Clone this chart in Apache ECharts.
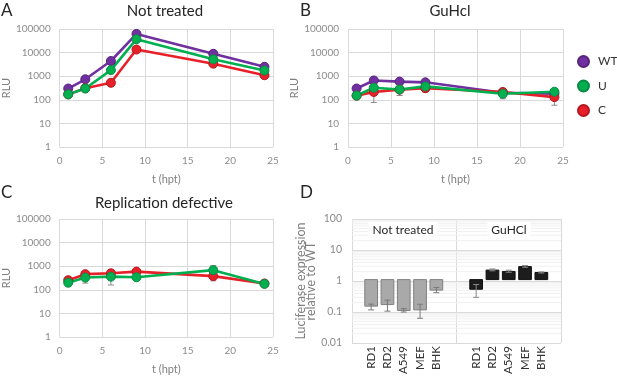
<!DOCTYPE html>
<html><head><meta charset="utf-8">
<script src="https://cdn.jsdelivr.net/npm/echarts@6/dist/echarts.min.js"></script>
<style>html,body{margin:0;padding:0;background:#fff}#c{width:617px;height:377px}</style>
</head><body><div id="c"></div>
<script>
// ---- data ----
const T = [1, 3, 6, 9, 18, 24];
const seriesNames = ['WT', 'U', 'C'];
const A_WT = [300, 740, 4400, 62000, 8900, 2500];
const A_U = [170, 300, 1800, 37000, 5200, 1740];
const A_C = [170, 310, 525, 13500, 3400, 1100];
const B_WT = [300, 660, 590, 550, 200, 180];
const B_U = [152, 325, 275, 370, 180, 220];
const B_C = [150, 215, 270, 310, 215, 130];
const B_errLow = [110, 77, 152, 213, 110, 59];
const B_errHigh = [330, 800, 700, 640, 260, 300];
const C_U = [200, 330, 360, 340, 680, 178];
const C_C = [255, 460, 500, 590, 380, 185];
const C_errLow = [150, 192, 160, 310, 240, 140];
const C_errHigh = [300, 520, 650, 640, 1050, 260];
const cells = ['RD1', 'RD2', 'A549', 'MEF', 'BHK'];
const D_nt = [0.133, 0.15, 0.096, 0.1, 0.45];
const D_ntLow = [0.1, 0.091, 0.085, 0.053, 0.37];
const D_ntHigh = [0.155, 0.21, 0.11, 0.154, 0.55];
const D_gu = [0.48, 2.06, 1.86, 2.69, 1.72];
const D_guLow = [0.26, 1.95, 1.75, 2.55, 1.65];
const D_guHigh = [0.69, 2.25, 2.05, 2.9, 1.8];
const D_minor = [0.02,0.03,0.04,0.05,0.06,0.07,0.08,0.09,0.2,0.3,0.4,0.5,0.6,0.7,0.8,0.9,2,3,4,5,6,7,8,9,20,30,40,50,60,70,80,90];

// ---- styling ----
const FONT = 'Lato, "Open Sans", sans-serif';
const COL = {WT: '#7030A0', U: '#00B050', C: '#E8202A'};
const BORDER = {WT: '#55247c', U: '#0a8a42', C: '#b5161e'};
const GRID_C = '#d9d9d9';
const LABEL_C = '#8c8c8c';
const pairs = (xs, ys) => xs.map((x, i) => [x, ys[i]]);
const triples = (xs, lo, hi) => xs.map((x, i) => [x, lo[i], hi[i]]);

function lineX(gi) {
  return {gridIndex: gi, type: 'value', min: 0, max: 25, interval: 5,
    axisLine: {show: false}, axisTick: {show: false},
    splitLine: {show: true, lineStyle: {color: GRID_C}},
    axisLabel: {color: LABEL_C, fontSize: 10, fontFamily: FONT, margin: 9},
    name: 't (hpt)', nameLocation: 'middle', nameGap: 27,
    nameTextStyle: {color: '#7f7f7f', fontSize: 11, fontFamily: FONT}};
}
function lineY(gi, gap) {
  return {gridIndex: gi, type: 'log', logBase: 10, min: 1, max: 100000, splitNumber: 5,
    axisLine: {show: false}, axisTick: {show: false},
    splitLine: {show: true, lineStyle: {color: GRID_C}},
    axisLabel: {color: LABEL_C, fontSize: 10, fontFamily: FONT, margin: 9,
      formatter: v => String(Math.round(v))},
    name: 'RLU', nameLocation: 'middle', nameGap: gap, nameRotate: 90,
    nameTextStyle: {color: '#7f7f7f', fontSize: 11, fontFamily: FONT}};
}
function lineSeries(name, gi, ys) {
  return {type: 'line', name: name, xAxisIndex: gi, yAxisIndex: gi,
    data: pairs(T, ys), symbol: 'circle', symbolSize: 9, z: 3,
    lineStyle: {color: COL[name], width: 2.6},
    itemStyle: {color: COL[name], borderColor: BORDER[name], borderWidth: 1},
    emphasis: {disabled: true}};
}
function errSeries(gi, data, cap, color) {
  return {type: 'custom', xAxisIndex: gi, yAxisIndex: gi, data: data, z: 2,
    encode: {x: 0, y: [1, 2]},
    renderItem: (p, api) => {
      const x = api.value(0);
      const a = api.coord([x, api.value(1)]);
      const b = api.coord([x, api.value(2)]);
      const st = {stroke: color, lineWidth: 1};
      return {type: 'group', children: [
        {type: 'line', shape: {x1: a[0], y1: a[1], x2: b[0], y2: b[1]}, style: st},
        {type: 'line', shape: {x1: a[0]-cap, y1: a[1], x2: a[0]+cap, y2: a[1]}, style: st},
        {type: 'line', shape: {x1: b[0]-cap, y1: b[1], x2: b[0]+cap, y2: b[1]}, style: st}
      ]};
    }};
}
function barSeries(gi, vals, fill, stroke) {
  return {type: 'custom', xAxisIndex: gi, yAxisIndex: gi, z: 2,
    data: vals.map((v, i) => [i, v]),
    renderItem: (p, api) => {
      const i = api.value(0);
      const p0 = api.coord([i, 1]);
      const p1 = api.coord([i, api.value(1)]);
      const w = api.size([1, 0])[0] * 0.78;
      return {type: 'rect', shape: {x: p0[0]-w/2, y: Math.min(p0[1], p1[1]), width: w, height: Math.abs(p1[1]-p0[1])},
        style: {fill: fill, stroke: stroke, lineWidth: 1}};
    }};
}
function barX(gi) {
  return {gridIndex: gi, type: 'category', data: cells,
    axisLine: {show: false}, axisTick: {show: false}, splitLine: {show: false},
    axisLabel: {show: true, rotate: 90, interval: 0, hideOverlap: false,
      color: '#333', fontSize: 11.5, fontFamily: FONT, margin: 6}};
}
function barY(gi) {
  return {gridIndex: gi, type: 'log', logBase: 10, min: 0.01, max: 100, show: false, splitLine: {show: false}};
}
const fmtD = v => String(Number(v.toPrecision(3)));

const txt = (x, y, text, size, align, color, bg) => ({type: 'text', x: x, y: y, z: 10,
  style: {text: text, fontSize: size, fontFamily: FONT, fill: color || '#262626', textAlign: align || 'left', textVerticalAlign: 'middle',
    backgroundColor: bg || 'transparent', padding: bg ? [2, 4] : 0}});

const option = {
  animation: false,
  grid: [
    {left: 59, top: 29, width: 214, height: 118},
    {left: 348, top: 29, width: 215, height: 118},
    {left: 56, top: 219, width: 217, height: 118},
    {left: 352, top: 219, width: 209, height: 124},
    {left: 363, top: 219, width: 81.5, height: 124},
    {left: 468, top: 219, width: 81.5, height: 124}
  ],
  xAxis: [lineX(0), lineX(1), lineX(2),
    {gridIndex: 3, type: 'value', min: 0, max: 2, interval: 1, axisLine: {show: false}, axisTick: {show: false},
      axisLabel: {show: false}, splitLine: {show: true, lineStyle: {color: GRID_C}}},
    barX(4), barX(5)],
  yAxis: [lineY(0, 46), lineY(1, 41), lineY(2, 43),
    {gridIndex: 3, type: 'log', logBase: 10, min: 0.01, max: 100, splitNumber: 4,
      axisLine: {show: false}, axisTick: {show: false},
      splitLine: {show: true, lineStyle: {color: GRID_C}},
      axisLabel: {color: LABEL_C, fontSize: 10.5, fontFamily: FONT, margin: 10, formatter: fmtD},
      name: 'Luciferase expression\nrelative to WT', nameLocation: 'middle', nameGap: 30, nameRotate: 90,
      nameTextStyle: {color: '#7f7f7f', fontSize: 12.5, fontFamily: FONT, lineHeight: 10}},
    barY(4), barY(5)],
  legend: {data: seriesNames, orient: 'vertical', left: 577, top: 55, padding: 0, icon: 'circle',
    itemWidth: 11, itemHeight: 11, itemGap: 11.5,
    textStyle: {fontSize: 12, fontFamily: FONT, color: '#333', padding: [0, 0, 0, 4], overflow: 'none'}},
  graphic: [
    txt(1, 11, 'A', 17), txt(300, 11, 'B', 17), txt(1, 193, 'C', 17), txt(300, 193, 'D', 17),
    txt(165, 11, 'Not treated', 15, 'center'),
    txt(450, 11, 'GuHcl', 15, 'center'),
    txt(164, 203, 'Replication defective', 15, 'center'),
    txt(403, 230, 'Not treated', 12, 'center', '#262626', '#ffffff'),
    txt(509, 230, 'GuHCl', 12, 'center', '#262626', '#ffffff')
  ],
  series: [
    lineSeries('WT', 0, A_WT), lineSeries('C', 0, A_C), lineSeries('U', 0, A_U),
    errSeries(1, triples(T, B_errLow, B_errHigh), 3, '#8a8a8a'),
    lineSeries('WT', 1, B_WT), lineSeries('C', 1, B_C), lineSeries('U', 1, B_U),
    errSeries(2, triples(T, C_errLow, C_errHigh), 3, '#8a8a8a'),
    lineSeries('C', 2, C_C), lineSeries('U', 2, C_U),
    {type: 'custom', xAxisIndex: 3, yAxisIndex: 3, z: 1, silent: true,
      data: D_minor.map(v => [0, v]),
      renderItem: (p, api) => {
        const a = api.coord([0, api.value(1)]);
        const b = api.coord([2, api.value(1)]);
        return {type: 'line', shape: {x1: a[0], y1: a[1], x2: b[0], y2: b[1]}, style: {stroke: '#f0f0f0', lineWidth: 1}};
      }},
    barSeries(4, D_nt, '#a9a9a9', '#808080'),
    barSeries(5, D_gu, '#1c1c1c', '#111111'),
    errSeries(4, cells.map((c, i) => [i, D_ntLow[i], D_ntHigh[i]]), 3, '#7a7a7a'),
    errSeries(5, cells.map((c, i) => [i, D_guLow[i], D_guHigh[i]]), 3, '#8a8a8a')
  ]
};
const chart = echarts.init(document.getElementById('c'), null, {renderer: 'canvas'});
chart.setOption(option);
</script></body></html>
